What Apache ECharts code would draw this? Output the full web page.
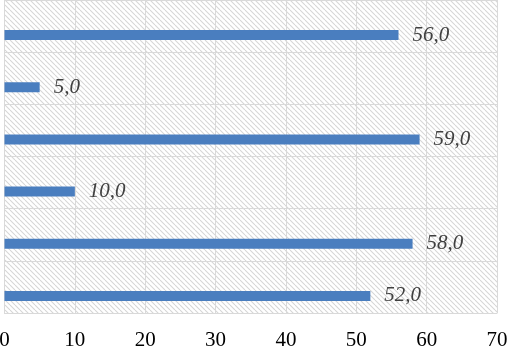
<!DOCTYPE html>
<html>
<head>
<meta charset="utf-8">
<script src="https://cdn.jsdelivr.net/npm/echarts@6/dist/echarts.min.js"></script>
<style>
  html, body { margin: 0; padding: 0; background: #fff; }
  #chart { width: 509px; height: 348px; }
</style>
</head>
<body>
<div id="chart"></div>
<script>
// categories listed bottom to top
const categories = ["A", "B", "C", "D", "E", "F"];
const values = [52, 58, 10, 59, 5, 56];
const xTicks = [0, 10, 20, 30, 40, 50, 60, 70];

// diagonal hatch for the plot area
const tile = document.createElement("canvas");
tile.width = 5;
tile.height = 5;
const ctx = tile.getContext("2d");
ctx.fillStyle = "#ffffff";
ctx.fillRect(0, 0, 5, 5);
ctx.strokeStyle = "#d6d6d6";
ctx.lineWidth = 1.1;
for (const dx of [-5, 0, 5]) {
  ctx.beginPath();
  ctx.moveTo(dx, 0);
  ctx.lineTo(dx + 5, 5);
  ctx.stroke();
}

const chart = echarts.init(document.getElementById("chart"));
chart.setOption({
  animation: false,
  backgroundColor: "#ffffff",
  grid: {
    left: 4.5, right: 12, top: 0, bottom: 35,
    containLabel: false,
    outerBoundsMode: "none",
    show: true,
    borderWidth: 0,
    backgroundColor: { image: tile, repeat: "repeat" },
  },
  xAxis: {
    type: "value",
    min: xTicks[0],
    max: xTicks[xTicks.length - 1],
    interval: 10,
    axisLine: { show: true, lineStyle: { color: "#d9d9d9" } },
    axisTick: { show: false },
    axisLabel: { fontFamily: "Liberation Serif", fontSize: 21, color: "#000", margin: 17 },
    splitLine: { show: true, lineStyle: { color: "#d9d9d9", width: 1 } },
  },
  yAxis: {
    type: "category",
    data: categories,
    axisLine: { show: true, lineStyle: { color: "#d9d9d9" } },
    axisTick: { show: false },
    axisLabel: { show: false },
    splitLine: { show: true, lineStyle: { color: "#d9d9d9", width: 1 } },
  },
  series: [
    {
      type: "bar",
      data: categories.map(() => null),
      barWidth: 10,
      barGap: "80%",
      silent: true,
    },
    {
      type: "bar",
      data: values,
      barWidth: 10,
      barGap: "80%",
      itemStyle: { color: "#4a7ebf" },
      label: {
        show: true,
        position: "right",
        distance: 14,
        fontFamily: "Liberation Serif",
        fontStyle: "italic",
        fontSize: 21,
        color: "#404040",
        formatter: (p) => p.value.toFixed(1).replace(".", ","),
      },
    },
  ],
});
</script>
</body>
</html>
